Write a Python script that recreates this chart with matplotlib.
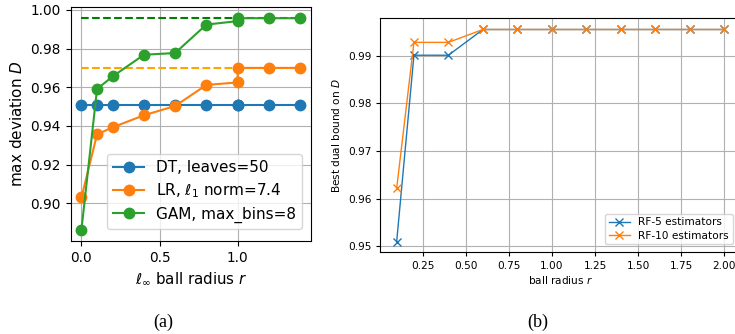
import matplotlib
matplotlib.use("Agg")
import matplotlib.pyplot as plt

# ---- panel (a) data ----
r_a = [0.0, 0.1, 0.2, 0.4, 0.6, 0.8, 1.0, 1.0, 1.2, 1.4]
dt_vals = [0.951, 0.951, 0.951, 0.951, 0.951, 0.951, 0.951, 0.951, 0.951, 0.951]
lr_vals = [0.903, 0.9356, 0.9393, 0.9455, 0.9503, 0.9612, 0.9625, 0.970, 0.970, 0.970]
gam_vals = [0.8863, 0.9591, 0.9656, 0.9768, 0.9777, 0.9924, 0.9942, 0.9957, 0.9957, 0.9957]
lr_bound = 0.970
gam_bound = 0.9957
labels_a = ["DT, leaves=50", r"LR, $\ell_1$ norm=7.4", "GAM, max_bins=8"]

# ---- panel (b) data ----
r_b = [0.1, 0.2, 0.4, 0.6, 0.8, 1.0, 1.2, 1.4, 1.6, 1.8, 2.0]
rf5_vals = [0.951, 0.9901, 0.9901, 0.9955, 0.9955, 0.9955, 0.9955, 0.9955, 0.9955, 0.9955, 0.9955]
rf10_vals = [0.9622, 0.9928, 0.9928, 0.9955, 0.9955, 0.9955, 0.9955, 0.9955, 0.9955, 0.9955, 0.9955]
labels_b = ["RF-5 estimators", "RF-10 estimators"]

W, H = 735, 334
fig = plt.figure(figsize=(W / 100, H / 100), dpi=100)

def ax_px(x0, y_top, x1, y_bot):
    return [x0 / W, 1 - y_bot / H, (x1 - x0) / W, (y_bot - y_top) / H]

# ---- (a) ----
ax1 = fig.add_axes(ax_px(70.5, 7, 311, 241))
ax1.plot([r_a[0], r_a[-1]], [gam_bound, gam_bound], ls="--", color="green", lw=1.5, zorder=1)
ax1.plot([r_a[0], r_a[-1]], [lr_bound, lr_bound], ls="--", color="orange", lw=1.5, zorder=1)
ax1.plot(r_a, dt_vals, marker="o", color="C0", ms=7.5, lw=1.5, label=labels_a[0], zorder=3)
ax1.plot(r_a, lr_vals, marker="o", color="C1", ms=7.5, lw=1.5, label=labels_a[1], zorder=3)
ax1.plot(r_a, gam_vals, marker="o", color="C2", ms=7.5, lw=1.5, label=labels_a[2], zorder=3)
ax1.set_xlim(-0.07, 1.47)
ax1.set_ylim(0.8805, 1.0015)
ax1.set_xticks([0.0, 0.5, 1.0])
ax1.set_yticks([0.90, 0.92, 0.94, 0.96, 0.98, 1.00])
ax1.tick_params(labelsize=9.8)
ax1.grid(True, color="#b0b0b0", lw=0.8)
ax1.set_axisbelow(True)
ax1.set_xlabel(r"$\ell_\infty$ ball radius $r$", fontsize=10.8)
ax1.set_ylabel(r"max deviation $D$", fontsize=11)
ax1.legend(loc="lower right", fontsize=11, handlelength=2.0, borderpad=0.4,
           labelspacing=0.4, framealpha=0.8, bbox_to_anchor=(0.995, 0.02))

# ---- (b) ----
ax2 = fig.add_axes(ax_px(380.3, 18.3, 740.8, 252.3))
ax2.plot(r_b, rf5_vals, marker="x", color="C0", ms=5.5, lw=1.0, label=labels_b[0])
ax2.plot(r_b, rf10_vals, marker="x", color="C1", ms=5.5, lw=1.0, label=labels_b[1])
ax2.set_xlim(0.005, 2.095)
ax2.set_ylim(0.94874, 0.99785)
ax2.set_xticks([0.25, 0.50, 0.75, 1.00, 1.25, 1.50, 1.75, 2.00])
ax2.set_xticklabels(["0.25", "0.50", "0.75", "1.00", "1.25", "1.50", "1.75", "2.00"])
ax2.set_yticks([0.95, 0.96, 0.97, 0.98, 0.99])
ax2.tick_params(labelsize=7.6, length=3)
ax2.grid(True, color="#b0b0b0", lw=0.8)
ax2.set_axisbelow(True)
ax2.set_xlabel(r"ball radius $r$", fontsize=7.6, labelpad=2)
ax2.set_ylabel(r"Best dual bound on $D$", fontsize=7.6)
ax2.legend(loc="lower right", fontsize=7.6, bbox_to_anchor=(0.992, 0.012),
           borderpad=0.35, labelspacing=0.3, handlelength=2.0)

# captions
fig.text(163 / W, 1 - 322 / H, "(a)", ha="center", va="center",
         fontsize=13, family="Liberation Serif")
fig.text(538 / W, 1 - 322 / H, "(b)", ha="center", va="center",
         fontsize=13, family="Liberation Serif")

fig.savefig("out.png", dpi=100)
